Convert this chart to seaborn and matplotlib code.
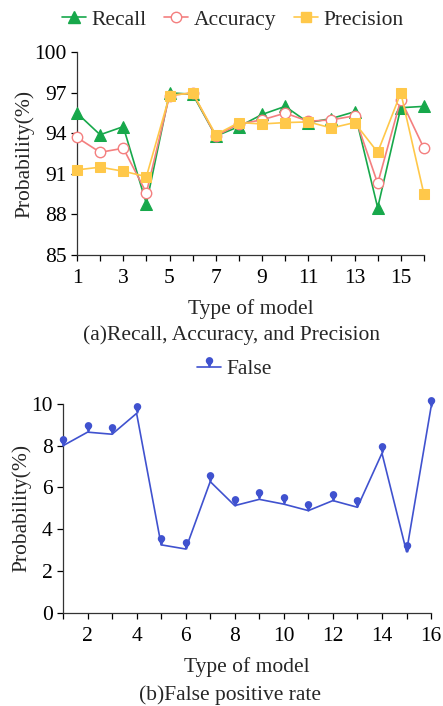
import numpy as np
import pandas as pd
import matplotlib
matplotlib.use("Agg")
import matplotlib.pyplot as plt
import seaborn as sns
from matplotlib.path import Path
from matplotlib.lines import Line2D

# ---- data ----
models = list(range(1, 17))
recall = [95.5, 93.9, 94.5, 88.8, 97.0, 96.9, 93.8, 94.5, 95.4, 96.0, 94.8, 95.1, 95.6, 88.5, 95.9, 96.0]
accuracy = [93.7, 92.6, 92.9, 89.6, 96.8, 97.0, 93.8, 94.7, 95.0, 95.5, 94.9, 95.0, 95.3, 90.3, 96.5, 92.9]
precision = [91.3, 91.5, 91.2, 90.8, 96.8, 97.0, 93.9, 94.8, 94.7, 94.8, 94.85, 94.4, 94.8, 92.6, 97.0, 89.5]
false_rate = [8.0, 8.65, 8.55, 9.55, 3.25, 3.05, 6.28, 5.13, 5.43, 5.2, 4.89, 5.37, 5.05, 7.64, 2.92, 9.85]
top_yticks = [85, 88, 91, 94, 97, 100]
top_xticklabels = [1, 3, 5, 7, 9, 11, 13, 15]
bot_yticks = [0, 2, 4, 6, 8, 10]
bot_xticklabels = [2, 4, 6, 8, 10, 12, 14, 16]

sns.set_theme(style="ticks")
plt.rcParams["font.family"] = ["Liberation Serif", "DejaVu Serif"]
plt.rcParams["axes.linewidth"] = 0.9
FS = 15.5

GREEN = "#17A84B"
RED = "#F47F7F"
YELLOW = "#FFC84A"
BLUE = "#4052CF"

# pin marker: circle above with a tail pointing to the data point (both counter-clockwise)
theta = np.linspace(0, 2 * np.pi, 40)
circ = np.column_stack([np.cos(theta), 1.8 + np.sin(theta)])
tail = np.array([[-0.18, 0.0], [0.18, 0.0], [0.7, 1.4], [-0.7, 1.4], [-0.18, 0.0]])
verts = np.vstack([circ, tail])
codes = [Path.MOVETO] + [Path.LINETO] * (len(circ) - 2) + [Path.CLOSEPOLY] + \
        [Path.MOVETO, Path.LINETO, Path.LINETO, Path.LINETO, Path.CLOSEPOLY]
pin = Path(verts, codes)

fig = plt.figure(figsize=(4.43, 7.06), dpi=100)
ax1 = fig.add_axes([0.1738, 0.6388, 0.957 - 0.1738, 0.9259 - 0.6388])
ax2 = fig.add_axes([0.1422, 0.1322, 0.973 - 0.1422, 0.4278 - 0.1322])

df = pd.DataFrame({"model": models, "Recall": recall, "Accuracy": accuracy, "Precision": precision})

sns.lineplot(data=df, x="model", y="Recall", ax=ax1, color=GREEN, lw=1.2,
             marker="^", markersize=8.5, markeredgecolor=GREEN, markerfacecolor=GREEN, zorder=3,
             clip_on=False)
sns.lineplot(data=df, x="model", y="Accuracy", ax=ax1, color=RED, lw=1.2,
             marker="o", markersize=7.5, markeredgecolor=RED, markerfacecolor="white",
             markeredgewidth=1.0, zorder=4, clip_on=False)
sns.lineplot(data=df, x="model", y="Precision", ax=ax1, color=YELLOW, lw=1.2,
             marker="s", markersize=7, markeredgecolor=YELLOW, markerfacecolor=YELLOW, zorder=5,
             clip_on=False)

ax1.set_xlim(1, 16)
ax1.set_ylim(85, 100)
ax1.set_yticks(top_yticks)
ax1.set_xticks(models, minor=False)
ax1.set_xticklabels([str(m) if m in top_xticklabels else "" for m in models])
ax1.tick_params(axis="both", labelsize=FS, direction="out", length=4, width=0.9, colors="black")
ax1.tick_params(axis="x", pad=6)
ax1.set_xlabel("Type of model", fontsize=FS, labelpad=8)
ax1.set_ylabel("Probability(%)", fontsize=FS, labelpad=0)
sns.despine(ax=ax1)
for s in ["left", "bottom"]:
    ax1.spines[s].set_color("#333333")

handles1 = [
    Line2D([], [], color=GREEN, lw=1.2, marker="^", markersize=8.5, markerfacecolor=GREEN, markeredgecolor=GREEN),
    Line2D([], [], color=RED, lw=1.2, marker="o", markersize=7.5, markerfacecolor="white", markeredgecolor=RED),
    Line2D([], [], color=YELLOW, lw=1.2, marker="s", markersize=7, markerfacecolor=YELLOW, markeredgecolor=YELLOW),
]
fig.legend(handles1, ["Recall", "Accuracy", "Precision"], loc="center", bbox_to_anchor=(0.525, 0.972),
           ncol=3, frameon=False, fontsize=FS, handlelength=1.1, handletextpad=0.25,
           columnspacing=0.84, borderaxespad=0)
fig.text(0.523, 0.5255, "(a)Recall, Accuracy, and Precision", ha="center", va="center", fontsize=FS)

fdf = pd.DataFrame({"model": models, "False": false_rate})
sns.lineplot(data=fdf, x="model", y="False", ax=ax2, color=BLUE, lw=1.2,
             marker=pin, markersize=15, markeredgewidth=0, markerfacecolor=BLUE, zorder=3,
             clip_on=False)
ax2.set_xlim(1, 16)
ax2.set_ylim(0, 10)
ax2.set_yticks(bot_yticks)
ax2.set_xticks(models)
ax2.set_xticklabels([str(m) if m in bot_xticklabels else "" for m in models])
ax2.tick_params(axis="both", labelsize=FS, direction="out", length=4, width=0.9, colors="black")
ax2.tick_params(axis="x", pad=6)
ax2.set_xlabel("Type of model", fontsize=FS, labelpad=8)
ax2.set_ylabel("Probability(%)", fontsize=FS, labelpad=0)
sns.despine(ax=ax2)
for s in ["left", "bottom"]:
    ax2.spines[s].set_color("#333333")

handles2 = [Line2D([], [], color=BLUE, lw=1.2, marker=pin, markersize=15, markeredgewidth=0, markerfacecolor=BLUE)]
fig.legend(handles2, ["False"], loc="center", bbox_to_anchor=(0.529, 0.477), frameon=False,
           fontsize=FS, handlelength=1.1, handletextpad=0.25, borderaxespad=0)
fig.text(0.52, 0.016, "(b)False positive rate", ha="center", va="center", fontsize=FS)

fig.savefig("out.png", dpi=100)
